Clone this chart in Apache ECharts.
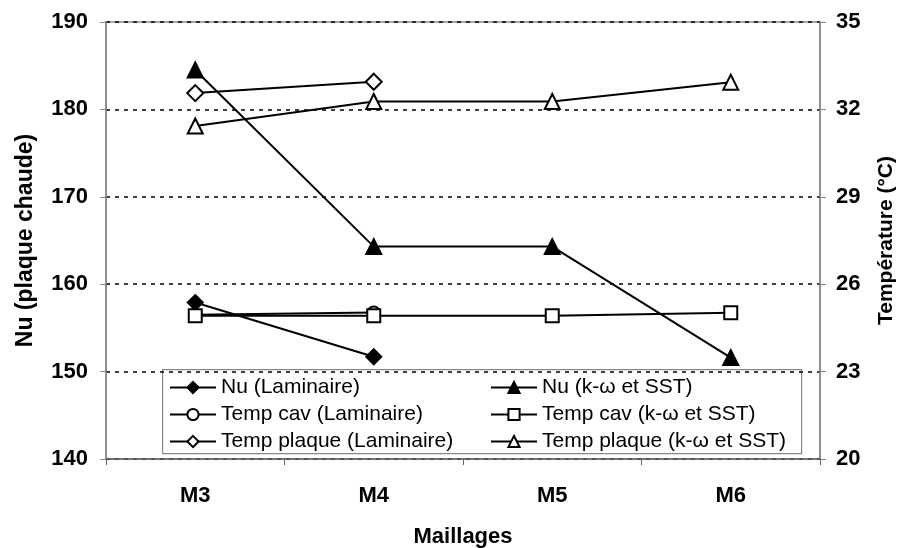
<!DOCTYPE html>
<html>
<head>
<meta charset="utf-8">
<script src="https://cdn.jsdelivr.net/npm/echarts@6/dist/echarts.min.js"></script>
<style>html,body{margin:0;padding:0;background:#fff;}#c{width:900px;height:548px;}</style>
</head>
<body>
<div id="c"></div>
<script>
const categories = ['M3', 'M4', 'M5', 'M6'];
const nuLaminaire = [157.9, 151.7, null, null];
const nuKw = [184.5, 164.3, 164.3, 151.6];
const tempCavLaminaire = [24.95, 25.03, null, null];
const tempCavKw = [24.92, 24.92, 24.92, 25.02];
const tempPlaqueLaminaire = [32.56, 32.95, null, null];
const tempPlaqueKw = [31.43, 32.27, 32.27, 32.93];
const leftTicks = [140, 150, 160, 170, 180, 190];
const rightTicks = [20, 23, 26, 29, 32, 35];

const FONT = 'Liberation Sans';
const chart = echarts.init(document.getElementById('c'), null, {renderer: 'canvas'});

function series(name, data, yIdx, symbol, size, filled) {
  return {
    name: name, type: 'line', data: data, yAxisIndex: yIdx,
    symbol: symbol, symbolSize: size, showSymbol: true,
    lineStyle: {color: '#000', width: 2},
    itemStyle: {color: filled ? '#000' : '#fff', borderColor: '#000', borderWidth: 2},
    emphasis: {disabled: true}, animation: false, connectNulls: false
  };
}

const legendText = {fontFamily: FONT, fontSize: 21, color: '#000'};
const boldText = {fontFamily: FONT, fontWeight: 'bold', color: '#000'};

chart.setOption({
  animation: false,
  backgroundColor: '#fff',
  grid: {left: 106, right: 80, top: 22, bottom: 89, show: true, borderColor: '#888', borderWidth: 1.5,
         containLabel: false, outerBoundsMode: 'none'},
  graphic: [{
    type: 'rect', left: 162, top: 369, z: 0,
    shape: {width: 639, height: 84},
    style: {fill: '#fff', stroke: '#888', lineWidth: 1.2}
  }],
  legend: [{
    orient: 'vertical', left: 164, top: 372, itemGap: 6, itemWidth: 46, itemHeight: 14,
    data: ['Nu (Laminaire)', 'Temp cav (Laminaire)', 'Temp plaque (Laminaire)'],
    textStyle: legendText, z: 5, selectedMode: false
  }, {
    orient: 'vertical', left: 485, top: 372, itemGap: 6, itemWidth: 46, itemHeight: 14,
    data: ['Nu (k-ω et SST)', 'Temp cav (k-ω et SST)', 'Temp plaque (k-ω et SST)'],
    textStyle: legendText, z: 5, selectedMode: false
  }],
  xAxis: {
    type: 'category', data: categories, boundaryGap: true,
    axisLine: {lineStyle: {color: '#666', width: 1.5}},
    axisTick: {show: true, inside: false, length: 6, lineStyle: {color: '#666'}},
    axisLabel: Object.assign({fontSize: 22, margin: 26}, boldText),
    name: 'Maillages', nameLocation: 'middle', nameGap: 67,
    nameTextStyle: Object.assign({fontSize: 22}, boldText)
  },
  yAxis: [{
    type: 'value', min: leftTicks[0], max: leftTicks[leftTicks.length - 1], interval: 10,
    position: 'left',
    axisLine: {show: true, lineStyle: {color: '#888', width: 1.5}},
    axisTick: {show: true, length: 6, lineStyle: {color: '#888'}},
    axisLabel: Object.assign({fontSize: 22, margin: 18}, boldText),
    splitLine: {show: true, lineStyle: {color: '#000', width: 1.5, type: [4, 5]}},
    name: 'Nu (plaque chaude)', nameLocation: 'middle', nameGap: 69, nameRotate: 90,
    nameTextStyle: Object.assign({fontSize: 23}, boldText)
  }, {
    type: 'value', min: rightTicks[0], max: rightTicks[rightTicks.length - 1], interval: 3,
    position: 'right',
    axisLine: {show: true, lineStyle: {color: '#888', width: 1.5}},
    axisTick: {show: true, length: 6, lineStyle: {color: '#888'}},
    axisLabel: Object.assign({fontSize: 22, margin: 16}, boldText),
    splitLine: {show: false},
    name: 'Température (°C)', nameLocation: 'middle', nameGap: 56, nameRotate: 90,
    nameTextStyle: Object.assign({fontSize: 21}, boldText)
  }],
  series: [
    series('Nu (Laminaire)', nuLaminaire, 0, 'diamond', 15, true),
    series('Nu (k-ω et SST)', nuKw, 0, 'triangle', 15, true),
    series('Temp cav (Laminaire)', tempCavLaminaire, 1, 'circle', 12, false),
    series('Temp cav (k-ω et SST)', tempCavKw, 1, 'rect', 13, false),
    series('Temp plaque (Laminaire)', tempPlaqueLaminaire, 1, 'diamond', 16, false),
    series('Temp plaque (k-ω et SST)', tempPlaqueKw, 1, 'triangle', 15, false)
  ]
});
</script>
</body>
</html>
